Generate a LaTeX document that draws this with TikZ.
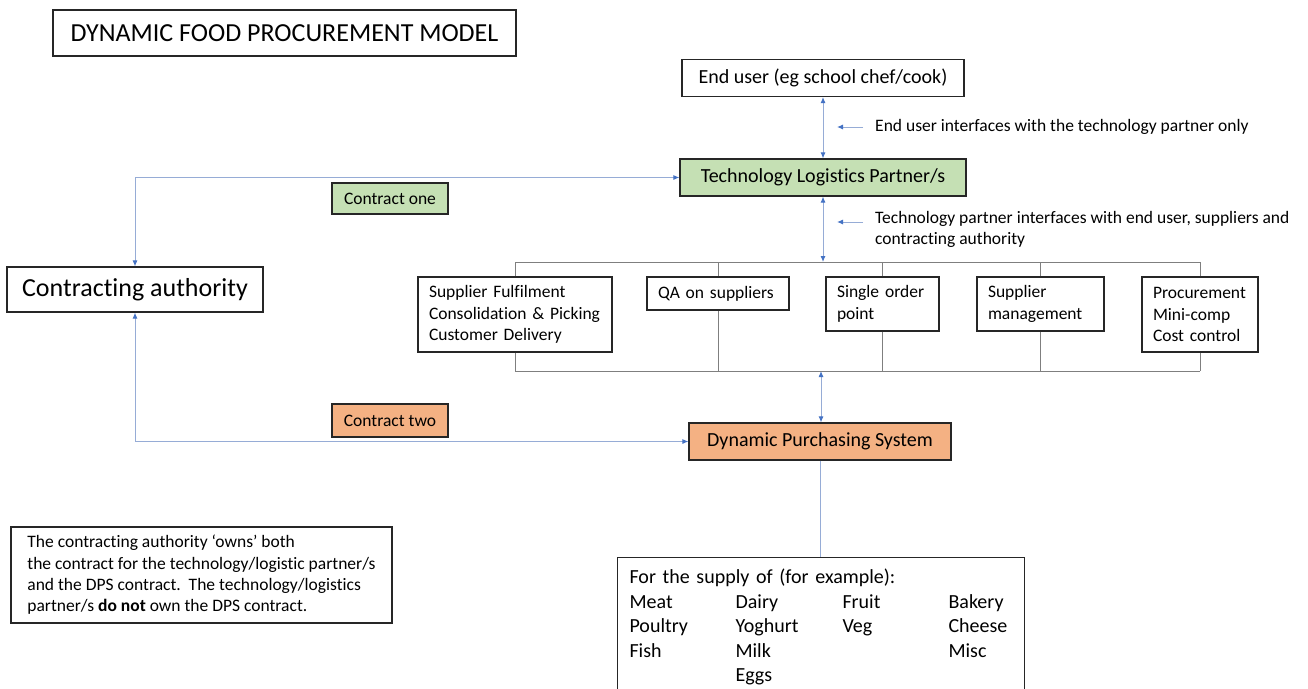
\documentclass[tikz,border=0pt]{standalone}
\usepackage{fontspec}
\setmainfont{Carlito}[Ligatures=NoCommon]
\usetikzlibrary{calc,arrows.meta}

\definecolor{linkblue}{RGB}{150,172,214}
\definecolor{tipblue}{RGB}{68,114,196}
\definecolor{partgreen}{RGB}{197,224,180}
\definecolor{dpsorange}{RGB}{244,177,131}
\definecolor{busgray}{RGB}{127,127,127}
\definecolor{inkgray}{RGB}{38,38,38}

\begin{document}
\begin{tikzpicture}[x=1pt,y=-1pt,
    box/.style={draw=inkgray, line width=1.1pt, text=black, inner sep=0pt},
    big/.style={font=\fontsize{26}{30}\selectfont},
    mid/.style={font=\fontsize{20}{24}\selectfont},
    small/.style={font=\fontsize{17.5}{21.5}\selectfont},
    part/.style={box, small, align=left, inner xsep=11pt},
    link/.style={draw=linkblue, line width=1pt},
    twoway/.style={link, {Latex[length=6pt,width=5pt,color=tipblue]}-{Latex[length=6pt,width=5pt,color=tipblue]}},
    pointer/.style={link, -{Latex[length=6pt,width=5pt,color=tipblue]}},
    bus/.style={draw=busgray, line width=0.8pt}]
    \clip (0,0) rectangle (1308,688);
    \fill[white] (0,0) rectangle (1308,688);

    \node[box, big, minimum width=463pt, minimum height=46pt] (title) at (284.5,33) {DYNAMIC FOOD PROCUREMENT MODEL};

    % top of the chain
    \node[box, mid, minimum width=282pt, minimum height=37pt] (enduser) at (823,78) {End user (eg school chef/cook)};
    \node[box, mid, fill=partgreen, minimum width=286pt, minimum height=37pt] (tech) at (823,177.5) {Technology Logistics Partner/s};
    \node[small, anchor=west, inner sep=0pt] (ann1) at (875,127) {End user interfaces with the technology partner only};
    \node[small, anchor=north west, align=left, inner sep=0pt] (ann2) at (875,211) {Technology partner interfaces with end user, suppliers and\\contracting authority};
    \coordinate (a1tip) at (837,127);
    \coordinate (a2tip) at (837,222);
    \draw[pointer] ([xshift=-12pt]ann1.west) -- (a1tip);
    \draw[pointer] ([xshift=-12pt]ann2.west |- a2tip) -- (a2tip);

    \node[box, big, minimum width=256pt, minimum height=45pt] (ca) at (135,289.5) {Contracting authority};
    \node[box, small, fill=partgreen, minimum width=116pt, minimum height=31pt] (c1) at (390,198.5) {Contract one};
    \node[box, small, fill=dpsorange, minimum width=116pt, minimum height=33pt] (c2) at (390,420.5) {Contract two};

    % what the partner does
    \node[part, text width=172pt, minimum height=75pt] (sup) at (515,314.5) {Supplier Fulfilment\\Consolidation \& Picking\\Customer Delivery};
    \node[part, text width=120pt, minimum height=33pt] (qa) at (718,293.5) {QA on suppliers};
    \node[part, text width=91pt, minimum height=54pt] (single) at (882.5,304) {Single order\\point};
    \node[part, text width=105pt, minimum height=54pt] (mgmt) at (1040.5,304) {Supplier\\management};
    \node[part, text width=94pt, minimum height=75pt] (proc) at (1200,314.5) {Procurement\\Mini-comp\\Cost control};
    \coordinate (topbus) at (823,262);
    \coordinate (botbus) at (821,371);
    \draw[bus] (sup.north |- topbus) -- (proc.north |- topbus);
    \draw[bus] (sup.south |- botbus) -- (proc.south |- botbus);
    \foreach \p in {sup,qa,single,mgmt,proc} {
        \draw[bus] (\p.north) -- (\p.north |- topbus);
        \draw[bus] (\p.south) -- (\p.south |- botbus);
    }

    \node[box, mid, fill=dpsorange, minimum width=262pt, minimum height=37pt] (dps) at (820,441.5) {Dynamic Purchasing System};

    \node[box, align=left, inner xsep=12pt, minimum width=381pt, minimum height=96pt, font=\fontsize{17.5}{21.3}\selectfont] (note) at (201.5,575) {The contracting authority ‘owns’ both\\the contract for the technology/logistic partner/s\\and the DPS contract.\ \ The technology/logistics\\partner/s \textbf{do not} own the DPS contract.};

    \node[box, anchor=north west, align=left, text width=383pt, inner xsep=12pt, inner ysep=9pt, font=\fontsize{20}{24.5}\selectfont] (supply) at (617,557) {%
        \begin{tabular}{@{}p{106pt}@{}p{107pt}@{}p{106pt}@{}l@{}}
        \multicolumn{4}{@{}l@{}}{For the supply of (for example):}\\
        Meat & Dairy & Fruit & Bakery\\
        Poultry & Yoghurt & Veg & Cheese\\
        Fish & Milk & & Misc\\
        & Eggs & &
        \end{tabular}};

    % connectors
    \draw[twoway] (enduser.south) -- (tech.north);
    \draw[twoway] (tech.south) -- (topbus);
    \draw[twoway] (botbus) -- (botbus |- dps.north);
    \draw[twoway] (ca.north) |- (tech.west);
    \draw[twoway] (ca.south) |- (dps.west);
    \draw[link] (dps.south) -- (dps.south |- supply.north);
\end{tikzpicture}
\end{document}
